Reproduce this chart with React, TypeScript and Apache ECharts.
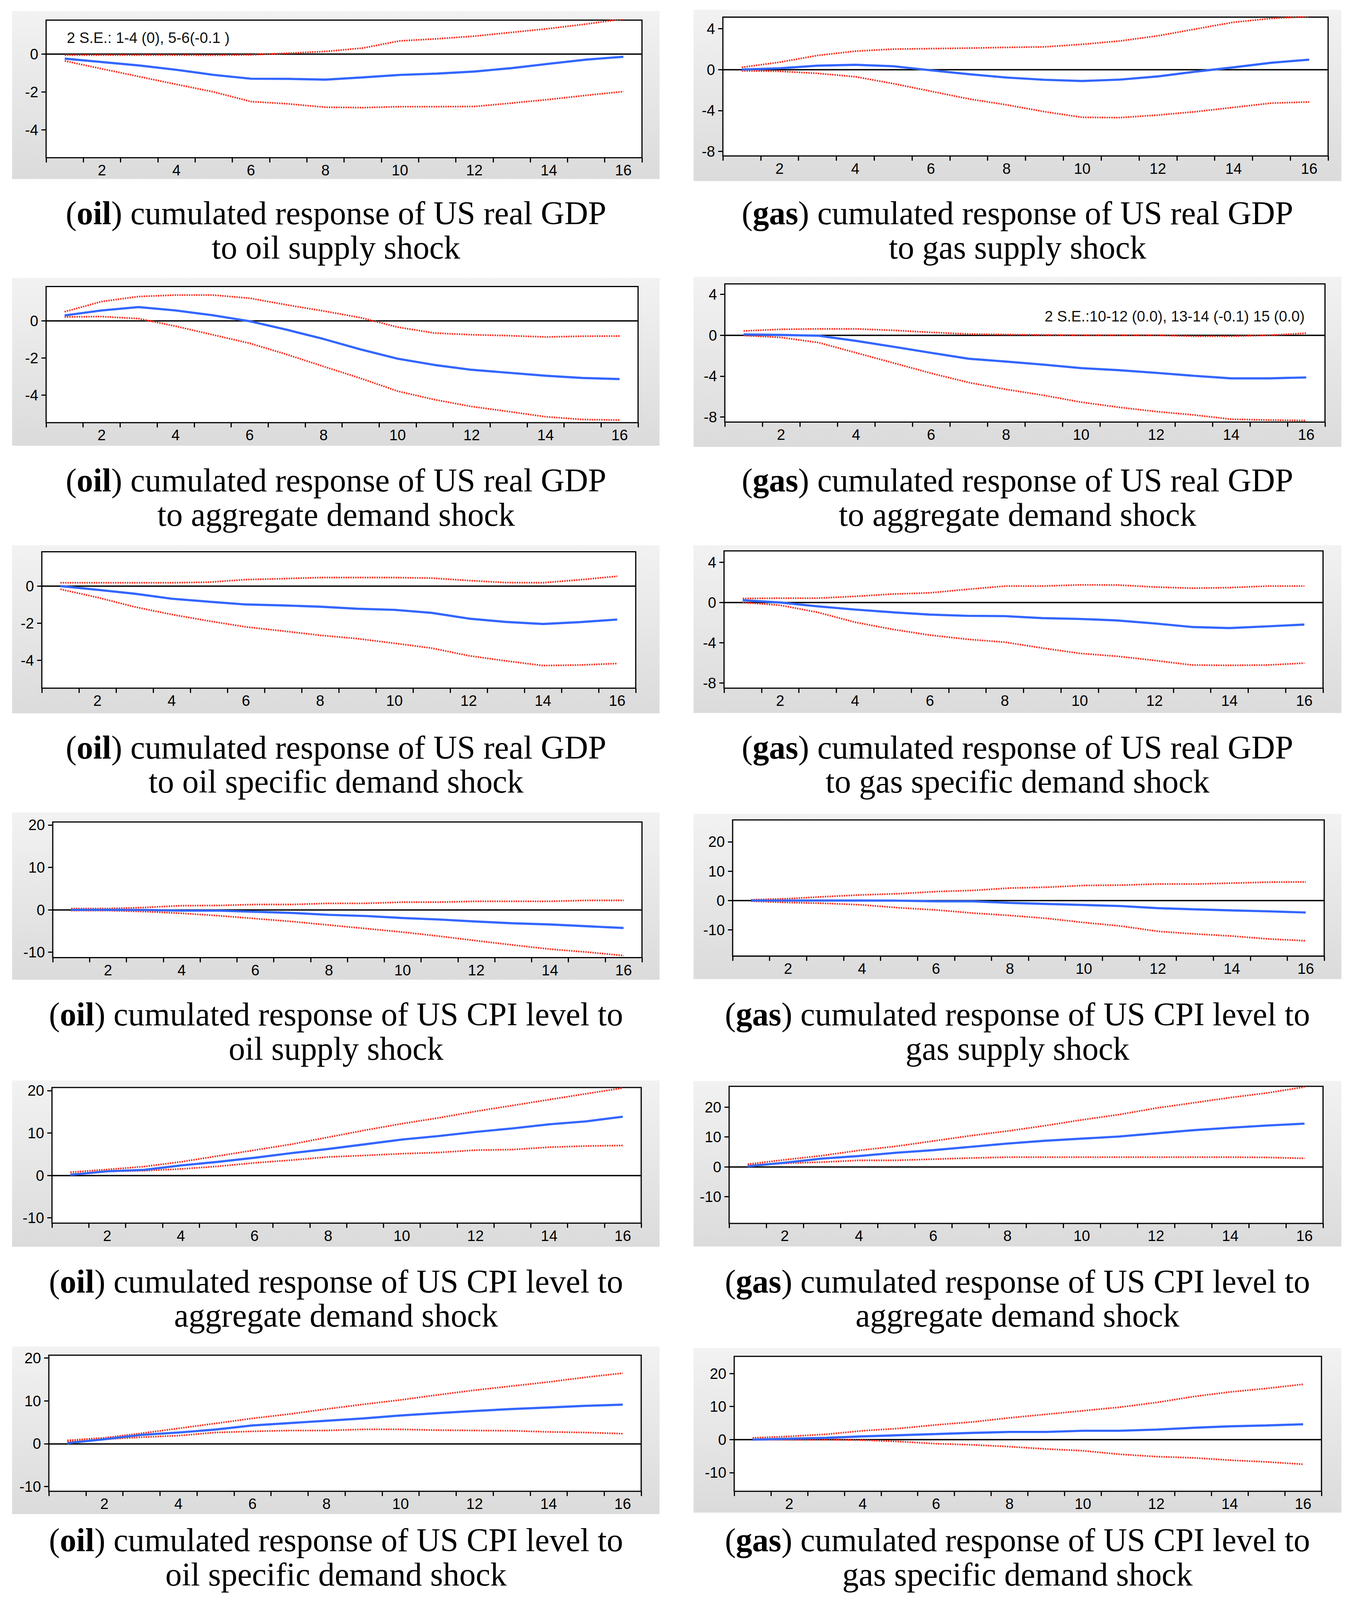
import React, { useEffect, useRef } from "react";
import * as echarts from "echarts";

// ---------- data ----------
const periods = ["1", "2", "3", "4", "5", "6", "7", "8", "9", "10", "11", "12", "13", "14", "15", "16"];

const gdpTicks = [-4, -2, 0];
const gdpGasTicks = [-8, -4, 0, 4];
const cpiTicks = [-10, 0, 10, 20];

// (oil) GDP – oil supply shock
const oilGdpSupplyMid = [-0.24, -0.42, -0.6, -0.83, -1.1, -1.3, -1.31, -1.35, -1.23, -1.1, -1.03, -0.92, -0.74, -0.51, -0.29, -0.14];
const oilGdpSupplyUp = [-0.05, -0.05, -0.05, -0.05, -0.06, -0.04, 0.05, 0.14, 0.32, 0.7, 0.81, 0.95, 1.15, 1.35, 1.59, 1.86];
const oilGdpSupplyLo = [-0.36, -0.78, -1.19, -1.6, -2.0, -2.51, -2.63, -2.81, -2.83, -2.78, -2.78, -2.77, -2.59, -2.4, -2.18, -1.98];
// (gas) GDP – gas supply shock
const gasGdpSupplyMid = [0.0, 0.13, 0.38, 0.47, 0.33, -0.07, -0.45, -0.78, -1.0, -1.12, -0.98, -0.67, -0.2, 0.22, 0.67, 0.97];
const gasGdpSupplyUp = [0.22, 0.72, 1.38, 1.8, 2.0, 2.05, 2.1, 2.17, 2.22, 2.47, 2.8, 3.3, 3.97, 4.63, 5.0, 5.2];
const gasGdpSupplyLo = [-0.12, -0.17, -0.37, -0.7, -1.37, -2.12, -2.87, -3.45, -4.12, -4.67, -4.7, -4.45, -4.12, -3.7, -3.28, -3.17];
// (oil) GDP – aggregate demand shock
const oilGdpAggMid = [0.29, 0.56, 0.74, 0.56, 0.3, -0.02, -0.48, -0.98, -1.54, -2.04, -2.38, -2.64, -2.8, -2.96, -3.08, -3.14];
const oilGdpAggUp = [0.49, 1.04, 1.31, 1.39, 1.39, 1.22, 0.86, 0.53, 0.17, -0.34, -0.66, -0.75, -0.8, -0.87, -0.83, -0.82];
const oilGdpAggLo = [0.21, 0.23, 0.12, -0.29, -0.75, -1.21, -1.81, -2.46, -3.1, -3.79, -4.25, -4.62, -4.89, -5.17, -5.32, -5.35];
// (gas) GDP – aggregate demand shock
const gasGdpAggMid = [0.08, 0.03, -0.05, -0.55, -1.13, -1.72, -2.3, -2.58, -2.88, -3.22, -3.42, -3.68, -3.97, -4.22, -4.22, -4.13];
const gasGdpAggUp = [0.42, 0.58, 0.62, 0.62, 0.48, 0.28, 0.12, 0.07, 0.03, 0.0, 0.0, 0.0, -0.1, -0.1, 0.0, 0.2];
const gasGdpAggLo = [-0.02, -0.22, -0.72, -1.72, -2.72, -3.72, -4.63, -5.3, -5.88, -6.55, -7.05, -7.47, -7.8, -8.22, -8.3, -8.35];
// (oil) GDP – oil specific demand shock
const oilGdpSpecMid = [0.0, -0.2, -0.41, -0.68, -0.84, -0.99, -1.04, -1.11, -1.22, -1.28, -1.44, -1.75, -1.93, -2.04, -1.94, -1.8];
const oilGdpSpecUp = [0.18, 0.18, 0.18, 0.18, 0.21, 0.35, 0.4, 0.46, 0.46, 0.46, 0.43, 0.3, 0.19, 0.18, 0.34, 0.53];
const oilGdpSpecLo = [-0.17, -0.61, -1.12, -1.53, -1.88, -2.2, -2.42, -2.65, -2.83, -3.08, -3.34, -3.75, -4.03, -4.28, -4.25, -4.17];
// (gas) GDP – gas specific demand shock
const gasGdpSpecMid = [0.23, 0.0, -0.38, -0.7, -0.97, -1.2, -1.32, -1.35, -1.55, -1.63, -1.78, -2.08, -2.43, -2.54, -2.37, -2.19];
const gasGdpSpecUp = [0.4, 0.43, 0.43, 0.61, 0.84, 0.96, 1.31, 1.63, 1.63, 1.75, 1.74, 1.54, 1.42, 1.48, 1.63, 1.63];
const gasGdpSpecLo = [0.0, -0.27, -0.97, -1.96, -2.66, -3.24, -3.65, -3.94, -4.52, -5.05, -5.34, -5.75, -6.21, -6.24, -6.21, -6.02];
// (oil) CPI – oil supply shock
const oilCpiSupplyMid = [0.0, 0.0, -0.05, -0.2, -0.2, -0.47, -0.75, -1.19, -1.47, -1.94, -2.3, -2.77, -3.19, -3.46, -3.88, -4.29];
const oilCpiSupplyUp = [0.28, 0.28, 0.55, 0.97, 1.02, 1.25, 1.25, 1.52, 1.52, 1.8, 1.8, 2.0, 2.0, 2.0, 2.22, 2.22];
const oilCpiSupplyLo = [-0.19, -0.19, -0.42, -0.83, -1.39, -2.08, -2.77, -3.6, -4.43, -5.26, -6.23, -7.29, -8.31, -9.28, -9.97, -10.8];
// (gas) CPI – gas supply shock
const gasCpiSupplyMid = [0.0, 0.0, 0.0, 0.0, -0.05, -0.28, -0.28, -0.8, -1.16, -1.52, -1.88, -2.6, -3.0, -3.36, -3.68, -4.08];
const gasCpiSupplyUp = [0.24, 0.64, 1.32, 1.92, 2.32, 3.04, 3.44, 4.24, 4.52, 5.12, 5.24, 5.6, 5.6, 5.92, 6.24, 6.32];
const gasCpiSupplyLo = [-0.2, -0.68, -0.96, -1.48, -2.48, -3.2, -4.28, -5.08, -6.08, -7.48, -8.68, -10.48, -11.36, -12.08, -13.08, -13.68];
// (oil) CPI – aggregate demand shock
const oilCpiAggMid = [0.14, 0.97, 1.3, 2.35, 3.19, 4.16, 5.26, 6.23, 7.34, 8.45, 9.28, 10.25, 11.08, 12.05, 12.74, 13.85];
const oilCpiAggUp = [0.75, 1.39, 2.08, 3.19, 4.57, 5.96, 7.34, 9.0, 10.66, 12.19, 13.57, 15.1, 16.48, 17.87, 19.25, 20.6];
const oilCpiAggLo = [0.28, 0.97, 1.11, 1.52, 2.13, 2.96, 3.6, 4.35, 4.71, 5.12, 5.4, 5.96, 6.09, 6.65, 6.93, 7.06];
// (gas) CPI – aggregate demand shock
const gasCpiAggMid = [0.2, 1.38, 2.76, 3.62, 4.72, 5.59, 6.69, 7.8, 8.74, 9.45, 10.16, 11.22, 12.28, 13.11, 13.86, 14.49];
const gasCpiAggUp = [0.87, 2.36, 3.74, 5.51, 6.89, 8.66, 10.43, 12.0, 13.78, 15.75, 17.52, 19.69, 21.46, 23.23, 24.8, 26.77];
const gasCpiAggLo = [0.59, 1.18, 1.57, 2.17, 2.17, 2.56, 2.95, 3.23, 3.23, 3.23, 3.23, 3.23, 3.23, 3.23, 3.15, 2.83];
// (oil) CPI – oil specific demand shock
const oilCpiSpecMid = [0.14, 1.04, 2.06, 2.61, 3.3, 4.26, 4.81, 5.36, 5.91, 6.59, 7.14, 7.64, 8.1, 8.46, 8.85, 9.12];
const oilCpiSpecUp = [0.77, 1.37, 2.42, 3.57, 4.73, 5.91, 6.92, 8.1, 9.2, 10.22, 11.4, 12.5, 13.46, 14.42, 15.52, 16.48];
const oilCpiSpecLo = [0.55, 1.04, 1.51, 1.87, 2.61, 2.88, 3.08, 3.08, 3.35, 3.35, 3.16, 3.08, 3.02, 2.75, 2.61, 2.34];
// (gas) CPI – gas specific demand shock
const gasCpiSpecMid = [0.0, 0.25, 0.53, 0.96, 1.32, 1.67, 2.03, 2.31, 2.31, 2.67, 2.67, 3.02, 3.56, 4.02, 4.27, 4.63];
const gasCpiSpecUp = [0.53, 0.96, 1.6, 2.67, 3.38, 4.45, 5.34, 6.58, 7.65, 8.72, 9.79, 11.21, 12.99, 14.41, 15.48, 16.73];
const gasCpiSpecLo = [0.0, 0.0, 0.0, -0.18, -0.6, -1.25, -1.6, -2.14, -2.85, -3.38, -4.45, -5.16, -5.52, -6.23, -6.76, -7.47];

// ---------- panel definitions ----------
const panels = [
  { tag: "oil", line1: " cumulated response of US real GDP", line2: "to oil supply shock", mid: oilGdpSupplyMid, up: oilGdpSupplyUp, lo: oilGdpSupplyLo, yMin: -5.48, yMax: 1.8, ticks: gdpTicks, note: "2 S.E.: 1-4 (0), 5-6(-0.1 )" },
  { tag: "gas", line1: " cumulated response of US real GDP", line2: "to gas supply shock", mid: gasGdpSupplyMid, up: gasGdpSupplyUp, lo: gasGdpSupplyLo, yMin: -8.45, yMax: 5.13, ticks: gdpGasTicks, note: "" },
  { tag: "oil", line1: " cumulated response of US real GDP", line2: "to aggregate demand shock", mid: oilGdpAggMid, up: oilGdpAggUp, lo: oilGdpAggLo, yMin: -5.49, yMax: 1.85, ticks: gdpTicks, note: "" },
  { tag: "gas", line1: " cumulated response of US real GDP", line2: "to aggregate demand shock", mid: gasGdpAggMid, up: gasGdpAggUp, lo: gasGdpAggLo, yMin: -8.5, yMax: 5.03, ticks: gdpGasTicks, note: "2 S.E.:10-12 (0.0), 13-14 (-0.1) 15 (0.0)" },
  { tag: "oil", line1: " cumulated response of US real GDP", line2: "to oil specific demand shock", mid: oilGdpSpecMid, up: oilGdpSpecUp, lo: oilGdpSpecLo, yMin: -5.5, yMax: 1.85, ticks: gdpTicks, note: "" },
  { tag: "gas", line1: " cumulated response of US real GDP", line2: "to gas specific demand shock", mid: gasGdpSpecMid, up: gasGdpSpecUp, lo: gasGdpSpecLo, yMin: -8.51, yMax: 5.13, ticks: gdpGasTicks, note: "" },
  { tag: "oil", line1: " cumulated response of US CPI level to", line2: "oil supply shock", mid: oilCpiSupplyMid, up: oilCpiSupplyUp, lo: oilCpiSupplyLo, yMin: -11.27, yMax: 20.7, ticks: cpiTicks, note: "" },
  { tag: "gas", line1: " cumulated response of US CPI level to", line2: "gas supply shock", mid: gasCpiSupplyMid, up: gasCpiSupplyUp, lo: gasCpiSupplyLo, yMin: -18.9, yMax: 27.4, ticks: cpiTicks, note: "" },
  { tag: "oil", line1: " cumulated response of US CPI level to", line2: "aggregate demand shock", mid: oilCpiAggMid, up: oilCpiAggUp, lo: oilCpiAggLo, yMin: -11.25, yMax: 20.72, ticks: cpiTicks, note: "" },
  { tag: "gas", line1: " cumulated response of US CPI level to", line2: "aggregate demand shock", mid: gasCpiAggMid, up: gasCpiAggUp, lo: gasCpiAggLo, yMin: -19, yMax: 27, ticks: cpiTicks, note: "" },
  { tag: "oil", line1: " cumulated response of US CPI level to", line2: "oil specific demand shock", mid: oilCpiSpecMid, up: oilCpiSpecUp, lo: oilCpiSpecLo, yMin: -11.13, yMax: 20.69, ticks: cpiTicks, note: "" },
  { tag: "gas", line1: " cumulated response of US CPI level to", line2: "gas specific demand shock", mid: gasCpiSpecMid, up: gasCpiSpecUp, lo: gasCpiSpecLo, yMin: -15.66, yMax: 25.2, ticks: cpiTicks, note: "" },
];

// ---------- layout (pixels, reference scale) ----------
const W = 3455;
const H = 5417;
// gray frames [x0, y0, x1, y1]
const frames = [
  [31, 37, 1688, 606], [1775, 33, 3433, 613],
  [31, 941, 1688, 1509], [1775, 937, 3433, 1513],
  [31, 1846, 1688, 2415], [1775, 1846, 3433, 2414],
  [31, 2751, 1688, 3317], [1775, 2755, 3433, 3315],
  [31, 3658, 1688, 4221], [1775, 3660, 3433, 4220],
  [31, 4559, 1688, 5126], [1775, 4564, 3433, 5121],
];
// plot boxes [x0, y0, x1, y1]
const plots = [
  [118, 68, 1643, 534], [1850, 58, 3399, 528],
  [118, 970, 1633, 1431], [1855, 961, 3391, 1429],
  [107, 1868, 1627, 2330], [1853, 1865, 3386, 2330],
  [135, 2783, 1643, 3242], [1875, 2776, 3389, 3237],
  [133, 3682, 1641, 4141], [1866, 3678, 3386, 4142],
  [125, 4588, 1641, 5049], [1879, 4592, 3382, 5049],
];
const notePos: Record<number, { x: number; y: number; align: string }> = {
  0: { x: 171, y: 127, align: "left" },
  3: { x: 3339, y: 1071, align: "right" },
};
const ROW_PITCH = 904;
const CAP1_Y = 722;
const CAP2_Y = 838;
const CAP_X = [860, 2604];

const SANS = "'Liberation Sans', Arial, sans-serif";
const SERIF = "'Liberation Serif', 'Times New Roman', serif";
const BLUE = "#3366ff";
const RED = "#ff2a1a";
const CAP_FS = 91;
const TICK_FS = 44;

function buildOption(sx: number, sy: number) {
  const fs = Math.sqrt(sx * sy);
  const cs = Math.min(sx, fs * 1.06);
  const X = (v: number) => v * sx;
  const Y = (v: number) => v * sy;
  const F = (v: number) => v * fs;
  const capSize = CAP_FS * cs;
  const totalH = H * sy;
  const grid: any[] = [];
  const xAxis: any[] = [];
  const yAxis: any[] = [];
  const series: any[] = [];
  const graphic: any[] = [];

  panels.forEach((p, i) => {
    const f = frames[i];
    const b = plots[i];
    const col = i % 2;
    const row = Math.floor(i / 2);

    // keep the caption block inside the picture
    const y2raw = Y(CAP2_Y + row * ROW_PITCH);
    const shift = Math.max(0, y2raw + capSize * 0.78 - totalH);
    const y1 = Y(CAP1_Y + row * ROW_PITCH) - shift;
    const y2 = y2raw - shift;

    graphic.push({
      type: "rect",
      z: -10,
      shape: { x: X(f[0]), y: Y(f[1]), width: X(f[2] - f[0]), height: Y(f[3] - f[1]) },
      style: {
        fill: new echarts.graphic.LinearGradient(0, 0, 0, 1, [
          { offset: 0, color: "#f2f2f2" },
          { offset: 1, color: "#dbdbdb" },
        ]),
      },
    });

    graphic.push({
      type: "text",
      z: 10,
      x: X(CAP_X[col]),
      y: y1,
      style: {
        text: `{n|(}{b|${p.tag}}{n|)${p.line1}}`,
        fontSize: capSize,
        fontFamily: SERIF,
        fill: "#000",
        align: "center",
        verticalAlign: "middle",
        rich: {
          n: { fontSize: capSize, fontFamily: SERIF, fill: "#000" },
          b: { fontSize: capSize, fontFamily: SERIF, fontWeight: "bold", fill: "#000" },
        },
      },
    });
    graphic.push({
      type: "text",
      z: 10,
      x: X(CAP_X[col]),
      y: y2,
      style: {
        text: p.line2,
        fontSize: capSize,
        fontFamily: SERIF,
        fill: "#000",
        align: "center",
        verticalAlign: "middle",
      },
    });

    if (p.note) {
      const np = notePos[i];
      graphic.push({
        type: "text",
        z: 10,
        x: X(np.x),
        y: Y(np.y),
        style: {
          text: p.note,
          fontSize: F(TICK_FS),
          fontFamily: SANS,
          fill: "#111",
          align: np.align,
          verticalAlign: "middle",
        },
      });
    }

    grid.push({
      left: X(b[0]),
      top: Y(b[1]),
      width: X(b[2] - b[0]),
      height: Y(b[3] - b[1]),
      show: true,
      backgroundColor: "#ffffff",
      borderColor: "#000",
      borderWidth: F(3.5),
      containLabel: false,
    });

    xAxis.push({
      gridIndex: i,
      type: "category",
      data: periods,
      boundaryGap: true,
      axisLine: { show: false, onZero: false },
      axisTick: { show: true, interval: 0, length: Y(16), lineStyle: { color: "#000", width: F(3.5) } },
      axisLabel: {
        interval: (idx: number) => idx % 2 === 1,
        fontSize: F(TICK_FS),
        fontFamily: SANS,
        color: "#000",
        margin: Y(17),
      },
      splitLine: { show: false },
    });

    yAxis.push({
      gridIndex: i,
      type: "value",
      min: p.yMin,
      max: p.yMax,
      axisLine: { show: false, onZero: false },
      axisTick: { show: true, length: X(12), lineStyle: { color: "#000", width: F(3.5) }, customValues: p.ticks },
      axisLabel: { fontSize: F(TICK_FS), fontFamily: SANS, color: "#000", margin: X(20), customValues: p.ticks },
      splitLine: { show: false },
    });

    series.push({
      type: "line",
      xAxisIndex: i,
      yAxisIndex: i,
      data: p.lo,
      symbol: "none",
      clip: true,
      z: 3,
      lineStyle: { color: RED, width: F(5), type: [F(4), F(3)] },
      markLine: {
        silent: true,
        symbol: ["none", "none"],
        label: { show: false },
        lineStyle: { color: "#000", width: F(4), type: "solid" },
        data: [{ yAxis: 0 }],
        z: 2,
      },
    });
    series.push({
      type: "line",
      xAxisIndex: i,
      yAxisIndex: i,
      data: p.up,
      symbol: "none",
      clip: true,
      z: 3,
      lineStyle: { color: RED, width: F(5), type: [F(4), F(3)] },
    });
    series.push({
      type: "line",
      xAxisIndex: i,
      yAxisIndex: i,
      data: p.mid,
      symbol: "none",
      clip: true,
      z: 4,
      lineStyle: { color: BLUE, width: F(6.5) },
    });
  });

  return {
    animation: false,
    backgroundColor: "#ffffff",
    grid,
    xAxis,
    yAxis,
    series,
    graphic: { elements: graphic },
  };
}

export default function App() {
  const ref = useRef<HTMLDivElement>(null);
  useEffect(() => {
    const el = ref.current as HTMLDivElement;
    const vw = window.innerWidth || W;
    const vh = window.innerHeight || H;
    const sx = Math.min(1, vw / W);
    const sy = Math.min(1, vh / H);
    el.style.width = `${W * sx}px`;
    el.style.height = `${H * sy}px`;
    const chart = echarts.init(el, undefined, { renderer: "svg", width: W * sx, height: H * sy });
    chart.setOption(buildOption(sx, sy) as any);
    return () => chart.dispose();
  }, []);
  return (
    <div
      ref={ref}
      style={{ position: "absolute", left: 0, top: 0, width: W, height: H, background: "#ffffff" }}
    />
  );
}
